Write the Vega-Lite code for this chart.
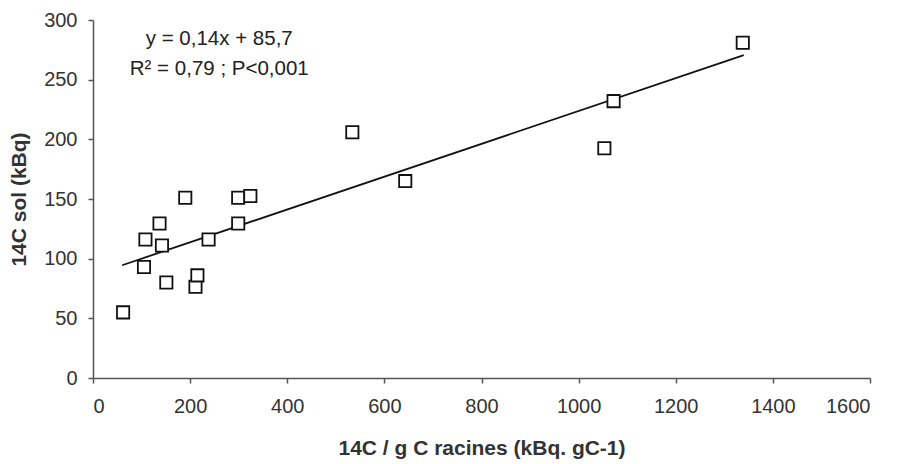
{
  "$schema": "https://vega.github.io/schema/vega-lite/v6.json",
  "width": 777,
  "height": 358,
  "autosize": {"type": "none"},
  "padding": {"left": 93, "top": 20, "right": 31, "bottom": 86},
  "background": "white",
  "config": {
    "view": {"stroke": null},
    "font": "Liberation Sans",
    "axis": {"grid": false, "domainColor": "#555", "tickColor": "#555", "domainWidth": 1.5, "tickWidth": 1.5, "tickSize": 5, "labelFont": "Liberation Sans", "labelFontSize": 20, "labelColor": "#333", "titleFont": "Liberation Sans", "titleFontSize": 21, "titleFontWeight": "bold", "titleColor": "#333"}
  },
  "datasets": {
    "pts": [
      {"x": 62, "y": 55}, {"x": 105, "y": 93}, {"x": 108, "y": 116}, {"x": 137, "y": 129.5},
      {"x": 142, "y": 111}, {"x": 151, "y": 80}, {"x": 190, "y": 151}, {"x": 211, "y": 76.5},
      {"x": 215, "y": 86}, {"x": 238, "y": 116}, {"x": 299, "y": 129.5}, {"x": 299, "y": 151},
      {"x": 324, "y": 152.5}, {"x": 534, "y": 206}, {"x": 643, "y": 165}, {"x": 1053, "y": 192.5},
      {"x": 1072, "y": 232}, {"x": 1338, "y": 281}
    ],
    "fit": [{"x": 60, "y": 94.5}, {"x": 1340, "y": 270.5}],
    "notes": [
      {"x": 260, "y": 279, "t": "y = 0,14x + 85,7"},
      {"x": 260, "y": 254, "t": "R² = 0,79 ; P<0,001"}
    ]
  },
  "layer": [
    {
      "data": {"name": "fit"},
      "mark": {"type": "line", "color": "#111", "strokeWidth": 1.8},
      "encoding": {
        "x": {"field": "x", "type": "quantitative", "scale": {"domain": [0, 1600]}, "axis": {"values": [0,200,400,600,800,1000,1200,1400,1600], "format": "d", "title": "14C / g C racines (kBq. gC-1)", "labelPadding": 13, "titlePadding": 21}},
        "y": {"field": "y", "type": "quantitative", "scale": {"domain": [0, 300]}, "axis": {"values": [0,50,100,150,200,250,300], "format": "d", "title": "14C sol (kBq)", "labelPadding": 11, "titlePadding": 14}}
      }
    },
    {
      "data": {"name": "pts"},
      "mark": {"type": "point", "shape": "square", "size": 150, "filled": false, "stroke": "#111", "strokeWidth": 1.8, "fill": "white", "fillOpacity": 1},
      "encoding": {
        "x": {"field": "x", "type": "quantitative"},
        "y": {"field": "y", "type": "quantitative"}
      }
    },
    {
      "data": {"name": "notes"},
      "mark": {"type": "text", "fontSize": 20.5, "color": "#222", "align": "center", "baseline": "alphabetic", "font": "Liberation Sans"},
      "encoding": {
        "x": {"field": "x", "type": "quantitative"},
        "y": {"field": "y", "type": "quantitative"},
        "text": {"field": "t"}
      }
    }
  ]
}
